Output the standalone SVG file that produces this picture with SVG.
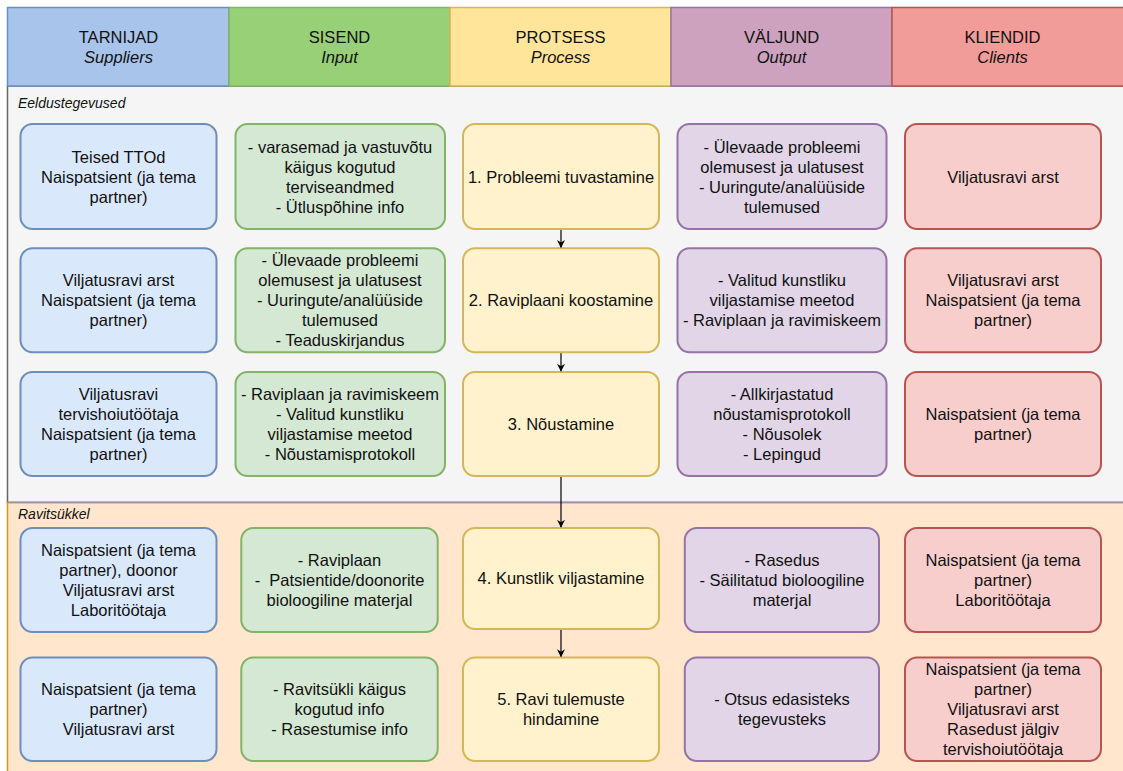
<svg xmlns="http://www.w3.org/2000/svg" width="1123" height="771" viewBox="0 0 1123 771">
  <defs>
    <style>
      .t { font-family: "Liberation Sans", Arial, sans-serif; font-size: 16.5px; fill: #111; text-anchor: middle; }
      .ti { font-style: italic; }
      .lane-label { font-family: "Liberation Sans", Arial, sans-serif; font-size: 14px; font-style: italic; fill: #111; }
      .box { stroke-width: 2; }
      .sup { fill: #dae8fc; stroke: #6c8ebf; }
      .inp { fill: #d5e8d4; stroke: #82b366; }
      .pro { fill: #fff2cc; stroke: #d6b656; }
      .out { fill: #e1d5e7; stroke: #9673a6; }
      .cli { fill: #f8cecc; stroke: #b85450; }
      .edge { stroke: #000; stroke-width: 1.2; fill: none; }
    </style>
    <marker id="arrow" viewBox="0 0 10 10" refX="9" refY="5" markerWidth="8" markerHeight="8" markerUnits="userSpaceOnUse" orient="auto">
      <path d="M0,0 L10,5 L0,10 L3,5 Z" fill="#000"/>
    </marker>
  </defs>

  <rect width="1123" height="771" fill="#ffffff"/>

  <!-- lanes -->
  <g id="lane-eeldustegevused">
    <rect x="7.5" y="86" width="1120" height="416.5" fill="#f5f5f5" stroke="#666666" stroke-width="1.5"/>
    <text class="lane-label" x="18" y="108">Eeldustegevused</text>
  </g>
  <g id="lane-ravitsykkel">
    <rect x="7.5" y="502.5" width="1120" height="275" fill="#ffe6cc" stroke="#d79b00" stroke-width="1.5"/>
    <line x1="7.5" y1="502.5" x2="1123" y2="502.5" stroke="#999999" stroke-width="1.5"/>
    <text class="lane-label" x="18" y="519">Ravitsükkel</text>
  </g>

  <!-- column headers -->
  <g id="header-suppliers">
    <rect x="7.5" y="7.5" width="221.5" height="78.5" fill="#a9c4eb" stroke="#6c8ebf" stroke-width="1.5"/>
    <text class="t"><tspan x="118.5" y="43">TARNIJAD</tspan><tspan class="ti" x="118.5" y="63">Suppliers</tspan></text>
  </g>
  <g id="header-input">
    <rect x="229" y="7.5" width="221" height="78.5" fill="#97d077" stroke="#82b366" stroke-width="1.5"/>
    <text class="t"><tspan x="339.5" y="43">SISEND</tspan><tspan class="ti" x="339.5" y="63">Input</tspan></text>
  </g>
  <g id="header-process">
    <rect x="450" y="7.5" width="221" height="78.5" fill="#ffe599" stroke="#d6b656" stroke-width="1.5"/>
    <text class="t"><tspan x="560.5" y="43">PROTSESS</tspan><tspan class="ti" x="560.5" y="63">Process</tspan></text>
  </g>
  <g id="header-output">
    <rect x="671" y="7.5" width="221" height="78.5" fill="#cda2be" stroke="#9673a6" stroke-width="1.5"/>
    <text class="t"><tspan x="781.5" y="43">VÄLJUND</tspan><tspan class="ti" x="781.5" y="63">Output</tspan></text>
  </g>
  <g id="header-clients">
    <rect x="892" y="7.5" width="235" height="78.5" fill="#f19c99" stroke="#b85450" stroke-width="1.5"/>
    <text class="t"><tspan x="1002.5" y="43">KLIENDID</tspan><tspan class="ti" x="1002.5" y="63">Clients</tspan></text>
  </g>

  <!-- row 1 -->
  <g id="sup1">
    <rect class="box sup" x="20.5" y="124" width="196" height="105" rx="12"/>
    <text class="t"><tspan x="118.5" y="162.5">Teised TTOd</tspan><tspan x="118.5" y="182.5">Naispatsient (ja tema</tspan><tspan x="118.5" y="202.5">partner)</tspan></text>
  </g>
  <g id="inp1">
    <rect class="box inp" x="235.5" y="124" width="209.5" height="105" rx="12"/>
    <text class="t"><tspan x="340" y="152.5">- varasemad ja vastuvõtu</tspan><tspan x="340" y="172.5">käigus kogutud</tspan><tspan x="340" y="192.5">terviseandmed</tspan><tspan x="340" y="212.5">- Ütluspõhine info</tspan></text>
  </g>
  <g id="pro1">
    <rect class="box pro" x="463" y="124" width="196" height="105" rx="12"/>
    <text class="t"><tspan x="561" y="182.5">1. Probleemi tuvastamine</tspan></text>
  </g>
  <g id="out1">
    <rect class="box out" x="677.5" y="124" width="209" height="105" rx="12"/>
    <text class="t"><tspan x="782" y="152.5">- Ülevaade probleemi</tspan><tspan x="782" y="172.5">olemusest ja ulatusest</tspan><tspan x="782" y="192.5">- Uuringute/analüüside</tspan><tspan x="782" y="212.5">tulemused</tspan></text>
  </g>
  <g id="cli1">
    <rect class="box cli" x="905" y="124" width="196" height="105" rx="12"/>
    <text class="t"><tspan x="1003" y="182.5">Viljatusravi arst</tspan></text>
  </g>

  <!-- row 2 -->
  <g id="sup2">
    <rect class="box sup" x="20.5" y="248.3" width="196" height="104" rx="12"/>
    <text class="t"><tspan x="118.5" y="286.1">Viljatusravi arst</tspan><tspan x="118.5" y="306.1">Naispatsient (ja tema</tspan><tspan x="118.5" y="326.1">partner)</tspan></text>
  </g>
  <g id="inp2">
    <rect class="box inp" x="235.5" y="248.3" width="209.5" height="104" rx="12"/>
    <text class="t"><tspan x="340" y="266.1">- Ülevaade probleemi</tspan><tspan x="340" y="286.1">olemusest ja ulatusest</tspan><tspan x="340" y="306.1">- Uuringute/analüüside</tspan><tspan x="340" y="326.1">tulemused</tspan><tspan x="340" y="346.1">- Teaduskirjandus</tspan></text>
  </g>
  <g id="pro2">
    <rect class="box pro" x="463" y="248.3" width="196" height="104" rx="12"/>
    <text class="t"><tspan x="561" y="306.1">2. Raviplaani koostamine</tspan></text>
  </g>
  <g id="out2">
    <rect class="box out" x="677.5" y="248.3" width="209" height="104" rx="12"/>
    <text class="t"><tspan x="782" y="286.1">- Valitud kunstliku</tspan><tspan x="782" y="306.1">viljastamise meetod</tspan><tspan x="782" y="326.1">- Raviplaan ja ravimiskeem</tspan></text>
  </g>
  <g id="cli2">
    <rect class="box cli" x="905" y="248.3" width="196" height="104" rx="12"/>
    <text class="t"><tspan x="1003" y="286.1">Viljatusravi arst</tspan><tspan x="1003" y="306.1">Naispatsient (ja tema</tspan><tspan x="1003" y="326.1">partner)</tspan></text>
  </g>

  <!-- row 3 -->
  <g id="sup3">
    <rect class="box sup" x="20.5" y="372" width="196" height="104" rx="12"/>
    <text class="t"><tspan x="118.5" y="399.8">Viljatusravi</tspan><tspan x="118.5" y="419.8">tervishoiutöötaja</tspan><tspan x="118.5" y="439.8">Naispatsient (ja tema</tspan><tspan x="118.5" y="459.8">partner)</tspan></text>
  </g>
  <g id="inp3">
    <rect class="box inp" x="235.5" y="372" width="209.5" height="104" rx="12"/>
    <text class="t"><tspan x="340" y="399.8">- Raviplaan ja ravimiskeem</tspan><tspan x="340" y="419.8">- Valitud kunstliku</tspan><tspan x="340" y="439.8">viljastamise meetod</tspan><tspan x="340" y="459.8">- Nõustamisprotokoll</tspan></text>
  </g>
  <g id="pro3">
    <rect class="box pro" x="463" y="372" width="196" height="104" rx="12"/>
    <text class="t"><tspan x="561" y="429.8">3. Nõustamine</tspan></text>
  </g>
  <g id="out3">
    <rect class="box out" x="677.5" y="372" width="209" height="104" rx="12"/>
    <text class="t"><tspan x="782" y="399.8">- Allkirjastatud</tspan><tspan x="782" y="419.8">nõustamisprotokoll</tspan><tspan x="782" y="439.8">- Nõusolek</tspan><tspan x="782" y="459.8">- Lepingud</tspan></text>
  </g>
  <g id="cli3">
    <rect class="box cli" x="905" y="372" width="196" height="104" rx="12"/>
    <text class="t"><tspan x="1003" y="419.8">Naispatsient (ja tema</tspan><tspan x="1003" y="439.8">partner)</tspan></text>
  </g>

  <!-- row 4 -->
  <g id="sup4">
    <rect class="box sup" x="20.5" y="528" width="196" height="104" rx="12"/>
    <text class="t"><tspan x="118.5" y="555.8">Naispatsient (ja tema</tspan><tspan x="118.5" y="575.8">partner), doonor</tspan><tspan x="118.5" y="595.8">Viljatusravi arst</tspan><tspan x="118.5" y="615.8">Laboritöötaja</tspan></text>
  </g>
  <g id="inp4">
    <rect class="box inp" x="241.3" y="528" width="196.4" height="104" rx="12"/>
    <text class="t" xml:space="preserve"><tspan x="339.5" y="565.8">- Raviplaan</tspan><tspan x="339.5" y="585.8">-  Patsientide/doonorite</tspan><tspan x="339.5" y="605.8">bioloogiline materjal</tspan></text>
  </g>
  <g id="pro4">
    <rect class="box pro" x="463" y="528" width="196" height="101" rx="12"/>
    <text class="t"><tspan x="561" y="584.3">4. Kunstlik viljastamine</tspan></text>
  </g>
  <g id="out4">
    <rect class="box out" x="684.8" y="528" width="194.2" height="104" rx="12"/>
    <text class="t"><tspan x="782" y="565.8">- Rasedus</tspan><tspan x="782" y="585.8">- Säilitatud bioloogiline</tspan><tspan x="782" y="605.8">materjal</tspan></text>
  </g>
  <g id="cli4">
    <rect class="box cli" x="905" y="528" width="196" height="104" rx="12"/>
    <text class="t"><tspan x="1003" y="565.8">Naispatsient (ja tema</tspan><tspan x="1003" y="585.8">partner)</tspan><tspan x="1003" y="605.8">Laboritöötaja</tspan></text>
  </g>

  <!-- row 5 -->
  <g id="sup5">
    <rect class="box sup" x="20.5" y="657.5" width="196" height="103.5" rx="12"/>
    <text class="t"><tspan x="118.5" y="694.8">Naispatsient (ja tema</tspan><tspan x="118.5" y="714.8">partner)</tspan><tspan x="118.5" y="734.8">Viljatusravi arst</tspan></text>
  </g>
  <g id="inp5">
    <rect class="box inp" x="241.3" y="657.5" width="196.4" height="103.5" rx="12"/>
    <text class="t"><tspan x="339.5" y="694.8">- Ravitsükli käigus</tspan><tspan x="339.5" y="714.8">kogutud info</tspan><tspan x="339.5" y="734.8">- Rasestumise info</tspan></text>
  </g>
  <g id="pro5">
    <rect class="box pro" x="463" y="657.5" width="196" height="103.5" rx="12"/>
    <text class="t"><tspan x="561" y="704.8">5. Ravi tulemuste</tspan><tspan x="561" y="724.8">hindamine</tspan></text>
  </g>
  <g id="out5">
    <rect class="box out" x="684.8" y="657.5" width="194.2" height="103.5" rx="12"/>
    <text class="t"><tspan x="782" y="704.8">- Otsus edasisteks</tspan><tspan x="782" y="724.8">tegevusteks</tspan></text>
  </g>
  <g id="cli5">
    <rect class="box cli" x="905" y="657.5" width="196" height="103.5" rx="12"/>
    <text class="t"><tspan x="1003" y="674.8">Naispatsient (ja tema</tspan><tspan x="1003" y="694.8">partner)</tspan><tspan x="1003" y="714.8">Viljatusravi arst</tspan><tspan x="1003" y="734.8">Rasedust jälgiv</tspan><tspan x="1003" y="754.8">tervishoiutöötaja</tspan></text>
  </g>

  <!-- process flow connectors -->
  <g id="connectors">
    <line class="edge" x1="561" y1="230" x2="561" y2="247.3" marker-end="url(#arrow)"/>
    <line class="edge" x1="561" y1="353.3" x2="561" y2="371" marker-end="url(#arrow)"/>
    <line class="edge" x1="561" y1="477" x2="561" y2="527" marker-end="url(#arrow)"/>
    <line class="edge" x1="561" y1="630" x2="561" y2="656.5" marker-end="url(#arrow)"/>
  </g>
</svg>
